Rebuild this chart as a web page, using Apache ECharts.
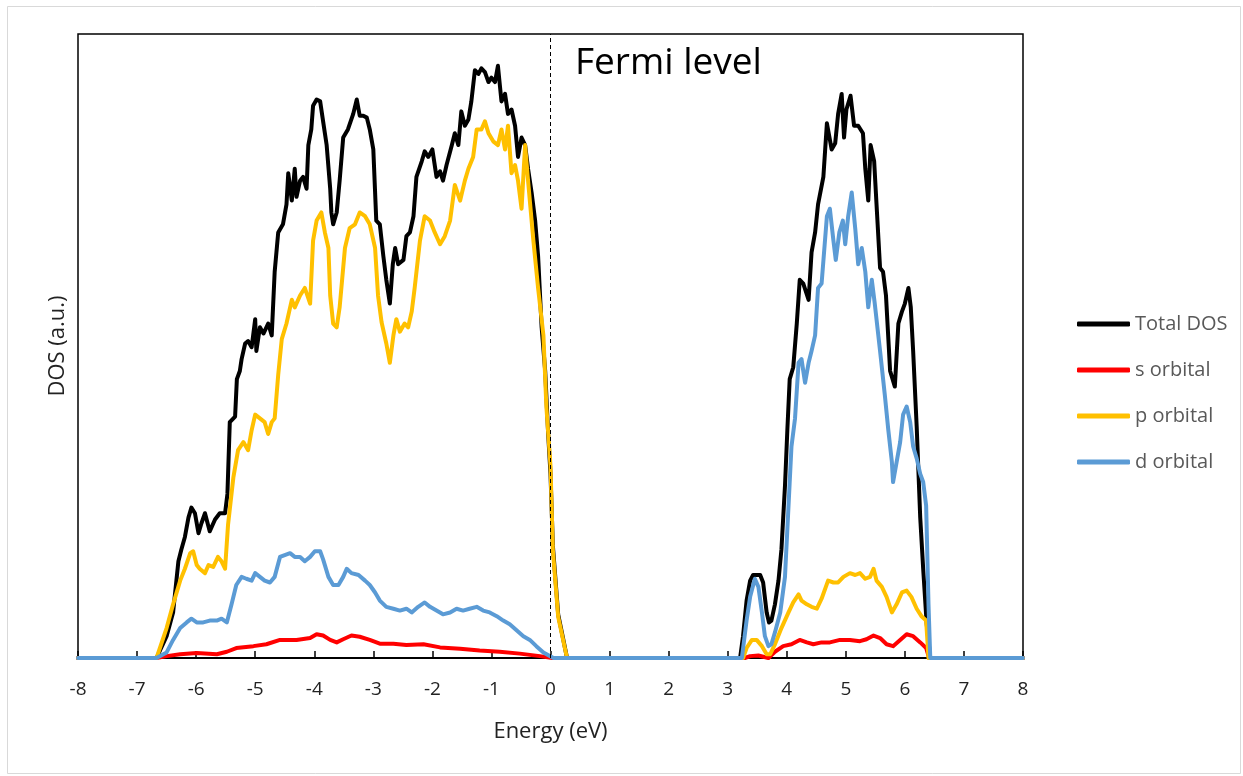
<!DOCTYPE html>
<html>
<head>
<meta charset="utf-8">
<script src="https://cdn.jsdelivr.net/npm/echarts@6/dist/echarts.min.js"></script>
<style>
html,body{margin:0;padding:0;background:#fff;}
#chart{width:1243px;height:776px;}
</style>
</head>
<body>
<div id="chart"></div>
<script>
// Energy axis ticks
const xTicks = [-8,-7,-6,-5,-4,-3,-2,-1,0,1,2,3,4,5,6,7,8];
const seriesNames = ['Total DOS','s orbital','p orbital','d orbital'];

// [Energy (eV), DOS (a.u.)]
const totalDOS = [
[-8,0],[-6.67,0],[-6.50,3.5],[-6.39,7.3],[-6.30,15.5],[-6.25,17.4],[-6.19,19.4],[-6.13,22.5],[-6.08,24.1],[-6.02,23.2],
[-5.96,20.0],[-5.91,21.6],[-5.85,23.2],[-5.77,20.3],[-5.68,22.2],[-5.60,23.2],[-5.51,23.2],[-5.47,26.3],[-5.43,37.8],[-5.34,38.7],
[-5.31,44.7],[-5.26,46.0],[-5.23,47.9],[-5.17,50.4],[-5.12,50.8],[-5.06,49.8],[-5.00,54.3],[-4.98,49.2],[-4.92,53.0],[-4.86,52.0],
[-4.78,53.6],[-4.72,51.7],[-4.67,61.9],[-4.61,68.2],[-4.53,69.5],[-4.47,72.7],[-4.44,77.7],[-4.38,73.3],[-4.33,78.4],[-4.30,73.9],
[-4.24,76.5],[-4.19,77.1],[-4.13,75.2],[-4.10,82.2],[-4.05,84.7],[-4.02,88.5],[-3.96,89.5],[-3.90,89.2],[-3.85,86.0],[-3.79,82.2],
[-3.73,75.2],[-3.71,71.4],[-3.68,69.5],[-3.62,71.4],[-3.57,76.5],[-3.51,83.4],[-3.43,84.7],[-3.34,87.2],[-3.28,89.5],[-3.23,86.9],
[-3.17,86.9],[-3.11,86.6],[-3.06,84.7],[-3.00,81.5],[-2.95,70.1],[-2.89,69.5],[-2.83,64.4],[-2.78,60.6],[-2.72,56.8],[-2.67,63.1],
[-2.63,65.7],[-2.58,63.1],[-2.49,63.8],[-2.44,67.6],[-2.38,68.2],[-2.32,70.8],[-2.27,77.1],[-2.18,79.6],[-2.13,81.2],[-2.07,80.3],
[-2.00,81.5],[-1.93,77.1],[-1.87,78.0],[-1.82,76.5],[-1.76,79.0],[-1.67,82.2],[-1.62,84.1],[-1.56,82.2],[-1.51,87.6],[-1.45,85.3],
[-1.39,86.3],[-1.34,89.2],[-1.28,94.2],[-1.22,93.6],[-1.17,94.5],[-1.11,93.9],[-1.05,92.3],[-1.00,93.0],[-0.94,92.3],[-0.89,94.9],
[-0.83,89.2],[-0.77,90.4],[-0.72,87.2],[-0.66,87.9],[-0.60,85.3],[-0.55,80.3],[-0.49,83.4],[-0.43,82.2],[-0.38,78.4],[-0.32,74.6],
[-0.26,70.1],[-0.21,64.4],[-0.15,53.0],[-0.09,46.0],[-0.04,36.0],[0.00,29.5],[0.04,18.0],[0.13,7.0],[0.25,1.4],[0.28,0],
[3.21,0],[3.26,3.5],[3.32,9.2],[3.38,12.4],[3.43,13.3],[3.55,13.3],[3.60,12.1],[3.66,7.3],[3.70,5.7],[3.74,6.0],
[3.80,8.6],[3.86,12.4],[3.91,17.4],[3.97,27.6],[4.01,36.5],[4.05,44.7],[4.11,46.6],[4.17,53.6],[4.22,60.6],[4.28,60.0],
[4.37,57.4],[4.42,65.0],[4.48,68.2],[4.53,72.7],[4.62,77.1],[4.68,85.7],[4.76,81.5],[4.82,82.5],[4.87,87.2],[4.93,90.4],
[4.97,83.4],[5.01,87.9],[5.08,90.1],[5.14,85.3],[5.21,85.3],[5.29,84.1],[5.33,78.4],[5.38,73.3],[5.42,82.2],[5.48,79.6],
[5.52,72.7],[5.58,62.5],[5.63,61.9],[5.68,58.1],[5.75,46.0],[5.83,43.5],[5.89,53.6],[5.95,55.5],[6.00,56.8],[6.06,59.3],
[6.10,56.2],[6.14,49.2],[6.20,37.1],[6.26,22.5],[6.31,14.3],[6.37,5.4],[6.43,0],[8,0]
];

const sOrbital = [
[-8,0],[-6.67,0],[-6.50,0.3],[-6.27,0.6],[-5.99,0.8],[-5.65,0.6],[-5.48,1.0],[-5.32,1.6],[-5.03,1.9],[-4.81,2.2],
[-4.58,2.9],[-4.30,2.9],[-4.07,3.2],[-3.96,3.8],[-3.85,3.6],[-3.73,2.9],[-3.62,2.5],[-3.51,3.0],[-3.37,3.6],[-3.23,3.4],
[-3.06,2.9],[-2.89,2.3],[-2.66,2.3],[-2.44,2.1],[-2.15,2.2],[-1.87,1.7],[-1.53,1.5],[-1.20,1.2],[-0.86,1.0],[-0.52,0.7],
[-0.18,0.3],[0.03,0],
[3.29,0],[3.38,0.3],[3.52,0.4],[3.69,0],[3.80,1.0],[3.94,1.9],[4.08,2.2],[4.22,2.9],[4.34,2.5],[4.45,2.2],
[4.59,2.5],[4.73,2.5],[4.90,2.9],[5.07,2.9],[5.24,2.7],[5.35,3.0],[5.47,3.6],[5.58,3.2],[5.69,2.2],[5.80,1.9],
[5.92,2.9],[6.03,3.8],[6.14,3.5],[6.26,2.5],[6.36,1.6],[6.41,0],[8,0]
];

const pOrbital = [
[-8,0],[-6.67,0],[-6.50,4.8],[-6.39,8.6],[-6.27,12.4],[-6.19,14.3],[-6.10,16.8],[-6.05,17.1],[-5.99,14.9],[-5.94,14.3],
[-5.85,13.6],[-5.79,14.9],[-5.71,14.6],[-5.63,16.2],[-5.57,15.5],[-5.51,14.3],[-5.46,21.3],[-5.37,28.9],[-5.29,33.3],[-5.20,34.6],
[-5.12,33.3],[-5.06,36.5],[-5.00,39.0],[-4.92,38.4],[-4.84,37.8],[-4.78,35.9],[-4.72,37.8],[-4.67,38.4],[-4.61,45.4],[-4.55,51.1],
[-4.47,53.6],[-4.38,57.4],[-4.33,56.2],[-4.24,58.1],[-4.16,59.3],[-4.07,56.8],[-4.02,66.9],[-3.96,70.1],[-3.88,71.4],[-3.82,68.2],
[-3.76,65.7],[-3.73,58.1],[-3.68,53.6],[-3.62,53.0],[-3.57,56.2],[-3.48,65.7],[-3.40,68.9],[-3.31,69.5],[-3.23,71.4],[-3.14,70.8],
[-3.06,69.5],[-2.97,65.7],[-2.92,58.1],[-2.86,53.8],[-2.78,50.4],[-2.72,47.3],[-2.66,51.7],[-2.61,54.3],[-2.55,52.3],[-2.47,53.6],
[-2.41,53.0],[-2.35,55.5],[-2.30,59.3],[-2.21,66.9],[-2.13,70.8],[-2.04,70.1],[-1.96,68.2],[-1.87,66.3],[-1.79,67.6],[-1.70,70.1],
[-1.62,75.8],[-1.53,73.3],[-1.45,76.5],[-1.39,78.4],[-1.31,80.3],[-1.25,84.7],[-1.17,84.7],[-1.11,86.0],[-1.05,84.1],[-0.97,82.8],
[-0.89,82.2],[-0.83,84.7],[-0.77,81.5],[-0.72,85.3],[-0.66,77.7],[-0.60,79.0],[-0.55,76.5],[-0.49,72.0],[-0.43,82.2],[-0.38,76.5],
[-0.29,66.9],[-0.21,59.3],[-0.12,51.7],[-0.07,40.3],[0.00,30.8],[0.04,17.3],[0.13,6.6],[0.25,1.3],[0.28,0],
[3.26,0],[3.32,1.6],[3.41,2.9],[3.49,2.9],[3.58,1.9],[3.66,0.6],[3.72,0.6],[3.80,2.2],[3.91,4.8],[4.03,7.3],
[4.11,8.9],[4.20,10.2],[4.25,9.2],[4.34,8.6],[4.42,8.2],[4.51,7.9],[4.59,9.5],[4.70,12.4],[4.79,12.1],[4.87,12.1],
[4.96,13.0],[5.07,13.6],[5.16,13.3],[5.24,13.6],[5.33,12.7],[5.41,13.0],[5.47,14.3],[5.52,12.4],[5.61,11.4],[5.69,9.8],
[5.78,7.3],[5.86,8.6],[5.95,10.5],[6.03,10.8],[6.11,9.8],[6.20,7.9],[6.28,6.7],[6.36,6.0],[6.40,0],[8,0]
];

const dOrbital = [
[-8,0],[-6.67,0],[-6.50,0.9],[-6.39,2.9],[-6.27,4.8],[-6.16,5.7],[-6.08,6.3],[-5.99,5.7],[-5.88,5.7],[-5.77,6.0],
[-5.65,6.0],[-5.57,6.3],[-5.48,5.7],[-5.40,8.6],[-5.32,11.7],[-5.23,13.0],[-5.15,12.7],[-5.06,12.4],[-5.00,13.6],[-4.92,13.0],
[-4.84,12.4],[-4.75,12.1],[-4.67,13.0],[-4.58,16.2],[-4.50,16.5],[-4.41,16.8],[-4.33,16.2],[-4.24,16.2],[-4.16,15.5],[-4.07,16.2],
[-3.99,17.1],[-3.90,17.1],[-3.85,15.8],[-3.76,13.0],[-3.68,11.7],[-3.59,11.7],[-3.51,13.0],[-3.45,14.3],[-3.37,13.6],[-3.25,13.3],
[-3.14,12.4],[-3.06,11.7],[-2.97,10.5],[-2.89,9.2],[-2.78,8.2],[-2.66,7.9],[-2.55,7.6],[-2.44,7.9],[-2.35,7.3],[-2.24,8.2],
[-2.13,8.9],[-2.04,8.2],[-1.93,7.6],[-1.82,7.0],[-1.70,7.3],[-1.59,7.9],[-1.48,7.6],[-1.37,7.9],[-1.25,8.2],[-1.14,7.6],
[-1.03,7.3],[-0.91,6.7],[-0.80,6.0],[-0.69,5.4],[-0.57,4.4],[-0.46,3.5],[-0.35,2.9],[-0.24,1.9],[-0.12,0.9],[0.05,0],
[3.24,0],[3.32,6.0],[3.38,9.8],[3.46,12.7],[3.52,11.4],[3.58,7.3],[3.63,3.5],[3.69,1.9],[3.74,2.2],[3.80,4.1],
[3.89,7.3],[3.97,13.0],[4.03,24.4],[4.08,33.9],[4.14,38.4],[4.20,47.3],[4.25,47.9],[4.31,44.1],[4.37,47.3],[4.42,49.2],
[4.48,51.7],[4.53,59.3],[4.59,60.0],[4.68,70.8],[4.73,72.0],[4.79,66.9],[4.83,63.8],[4.89,68.2],[4.95,70.1],[4.99,66.3],
[5.04,70.8],[5.10,74.6],[5.16,68.8],[5.21,63.1],[5.27,65.7],[5.33,61.9],[5.38,56.2],[5.44,60.6],[5.49,56.8],[5.58,49.2],
[5.66,42.2],[5.72,36.5],[5.78,31.4],[5.80,28.2],[5.86,31.4],[5.92,34.6],[5.97,39.0],[6.03,40.3],[6.09,37.8],[6.14,33.9],
[6.20,32.0],[6.26,29.5],[6.31,28.2],[6.36,24.4],[6.40,8.6],[6.43,0],[8,0]
];

const colors = ['#000000','#FF0000','#FFC000','#5B9BD5'];
const dataSets = [totalDOS, sOrbital, pOrbital, dOrbital];

const chart = echarts.init(document.getElementById('chart'), null, {renderer:'canvas'});
const series = seriesNames.map((name,i)=>({
  name: name,
  type: 'line',
  data: dataSets[i],
  showSymbol: false,
  symbol: 'none',
  lineStyle: {color: colors[i], width: 4, cap: 'round', join: 'round'},
  itemStyle: {color: colors[i]},
  animation: false,
  markLine: i === 0 ? {
    silent: true,
    symbol: ['none','none'],
    label: {show:false},
    lineStyle: {color:'#000', type:[4,3], width:1},
    data: [{xAxis: 0}]
  } : undefined
}));

chart.setOption({
  animation: false,
  backgroundColor: '#fff',
  grid: {left: 78, right: 220, top: 34, bottom: 118, show: true, borderColor: '#000', borderWidth: 1.5, containLabel: false},
  xAxis: {
    type: 'value', min: -8, max: 8, interval: 1,
    name: 'Energy (eV)', nameLocation: 'middle', nameGap: 63,
    nameTextStyle: {fontFamily: 'Open Sans', fontSize: 22, color: '#222'},
    axisLine: {show: true, onZero: false, lineStyle: {color: '#000', width: 2}},
    axisTick: {show: true, inside: true, length: 7, lineStyle: {color: '#000', width: 1.5}},
    axisLabel: {fontFamily: 'Open Sans', fontSize: 19, color: '#222', margin: 22,
      formatter: v => String(xTicks.includes(v) ? v : v)},
    splitLine: {show: false}
  },
  yAxis: {
    type: 'value', min: 0, max: 100,
    name: 'DOS (a.u.)', nameLocation: 'middle', nameGap: 9, nameRotate: 90,
    nameTextStyle: {fontFamily: 'Open Sans', fontSize: 22, color: '#222'},
    axisLine: {show: false}, axisTick: {show: false}, axisLabel: {show: false}, splitLine: {show: false}
  },
  legend: {
    orient: 'vertical', left: 1072, top: 309,
    itemWidth: 53, itemHeight: 5, itemGap: 26,
    textStyle: {fontFamily: 'Open Sans', fontSize: 20, color: '#595959'},
    data: seriesNames.map((n,i)=>({name:n, icon:'roundRect', itemStyle:{color:colors[i]}}))
  },
  graphic: [
    {type:'rect', left: 5, top: 4, shape:{width:1233, height:767}, style:{fill:'none', stroke:'#d9d9d9', lineWidth:1}, silent:true, z:-1},
    {type:'text', left: 575, top: 45, style:{text:'Fermi level', fontFamily:'Open Sans', fontSize: 37, fill:'#000'}}
  ],
  series: series
});
</script>
</body>
</html>
